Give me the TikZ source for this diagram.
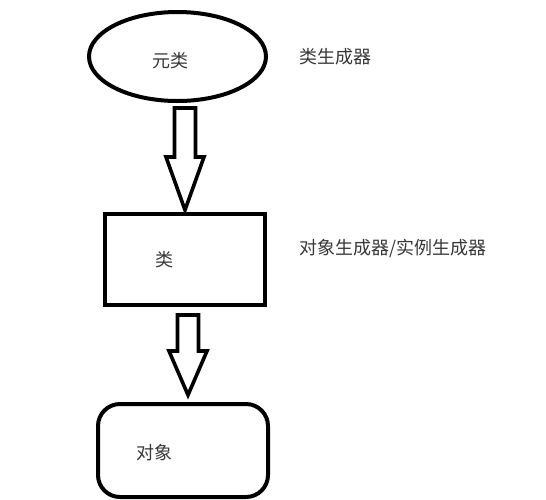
\documentclass[tikz,border=0pt]{standalone}
\usepackage{fontspec}
\newfontfamily\cjk{Noto Sans CJK SC}
\usetikzlibrary{calc,shapes.geometric}
\tikzset{
  shapeline/.style={draw=black,line width=4pt,inner sep=0pt},
  txt/.style={font=\cjk\fontsize{18}{20}\selectfont,text=black!78,inner sep=0pt},
  blockarrow/.style={draw=black,line width=3.6pt,line join=miter,fill=white}
}
\newcommand\barrowdraw[3]{%
  \draw[blockarrow] let \p1=(#1), \p2=(#2) in
    (\x2-10.5pt,\y1) -- (\x2+10.5pt,\y1) -- (\x2+10.5pt,\y2+#3) -- (\x2+19pt,\y2+#3)
    -- (\x2,\y2) -- (\x2-19pt,\y2+#3) -- (\x2-10.5pt,\y2+#3) -- cycle;}
\begin{document}
\begin{tikzpicture}[x=1pt,y=-1pt]
\useasboundingbox[fill=white] (0,0) rectangle (546,499);
% shapes
\node[shapeline,ellipse,minimum width=177,minimum height=89] (e) at (177.5,56.5) {};
\node[shapeline,rectangle,minimum width=160,minimum height=91] (r) at (185,259.5) {};
\node[shapeline,rectangle,rounded corners=22pt,minimum width=170,minimum height=93] (o) at (183,450.5) {};
% inner texts
\node[txt] (te) at (170,61) {元类};
\node[txt] (tr) at (164,260) {类};
\node[txt] (to) at (154,453) {对象};
% side labels
\node[txt,anchor=west] (l1) at (299,57) {类生成器};
\node[txt,anchor=west] (l2) at (299,248) {对象生成器/实例生成器};
% block arrows
\coordinate (a1top) at ($(e.south)+(0,5)$);
\coordinate (a1tip) at ($(r.north)+(0,-2)$);
\coordinate (a2top) at ($(r.south)+(0,8)$);
\coordinate (a2tip) at ($(o.north)+(5,-7)$);
\barrowdraw{a1top}{a1tip}{53pt}
\barrowdraw{a2top}{a2tip}{44pt}
\end{tikzpicture}
\end{document}
